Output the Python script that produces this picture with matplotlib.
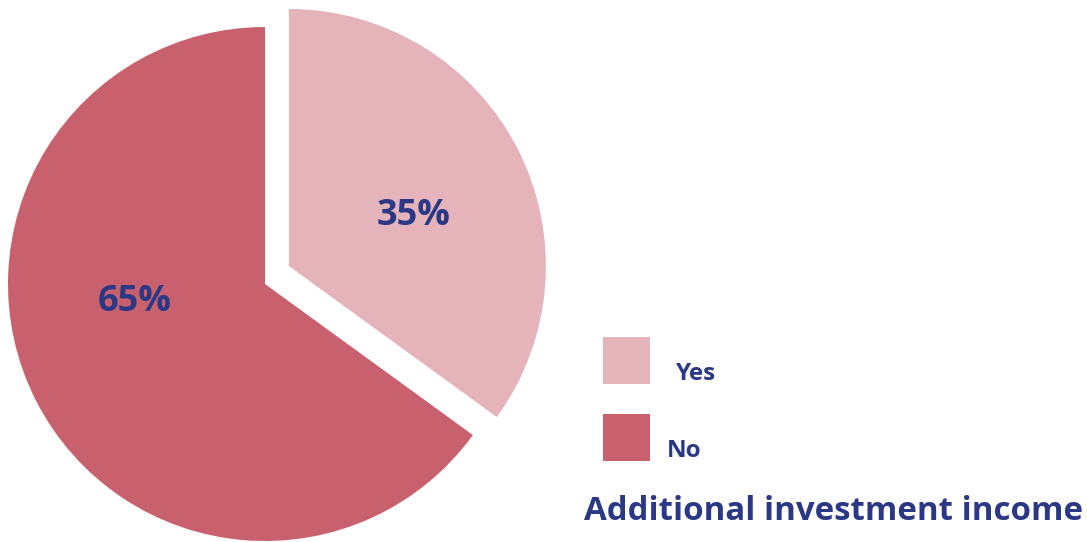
import matplotlib
matplotlib.use("Agg")
import matplotlib.pyplot as plt
from matplotlib.patches import Rectangle

# Share of respondents with additional investment income
categories = ["Yes", "No"]
shares = [35, 65]
colors = ["#E5B3BA", "#C8616D"]
title = "Additional investment income"
text_color = "#2B3886"

plt.rcParams["font.family"] = ["Open Sans", "DejaVu Sans"]

W, H = 1087, 542
fig = plt.figure(figsize=(W / 100, H / 100), dpi=100)
ax = fig.add_axes([0, 0, 1, 1])

wedges, _ = ax.pie(
    shares,
    colors=colors,
    startangle=90,
    counterclock=False,
    explode=[0.105, 0],
    radius=1.0,
    wedgeprops=dict(linewidth=0),
)
# pull the "Yes" slice out a little further upwards
wedges[0].set_center((0.093, 0.07))

# pie of radius 1 drawn at a fixed pixel scale
R_PX = 257.0
cx, cy = 265.0, 284.0  # pie centre, px from top-left
ax.set_xlim(-cx / R_PX, (W - cx) / R_PX)
ax.set_ylim(-(H - cy) / R_PX, cy / R_PX)
ax.set_aspect("equal")
ax.axis("off")

# percentage labels inside the slices
label_pos = [(414, 216), (135, 302)]
for val, (px, py) in zip(shares, label_pos):
    ax.text((px - cx) / R_PX, (cy - py) / R_PX, f"{val}%",
            ha="center", va="center", fontsize=26, fontweight="bold",
            color=text_color)

# legend: colour squares with labels
box_tops = [337, 414]
text_pos = [(676, 374), (667, 451)]
for cat, col, top, (tx, ty) in zip(categories, colors, box_tops, text_pos):
    fig.patches.append(Rectangle((603 / W, 1 - (top + 47) / H), 47 / W, 47 / H,
                                 transform=fig.transFigure, facecolor=col,
                                 edgecolor="none"))
    fig.text(tx / W, 1 - ty / H, cat, ha="left", va="center",
             fontsize=17.5, fontweight="bold", color=text_color)

fig.text(1083 / W, 1 - 511 / H, title, ha="right", va="center",
         fontsize=23.8, fontweight="bold", color=text_color)

fig.savefig("out.png", dpi=100, facecolor="white")
